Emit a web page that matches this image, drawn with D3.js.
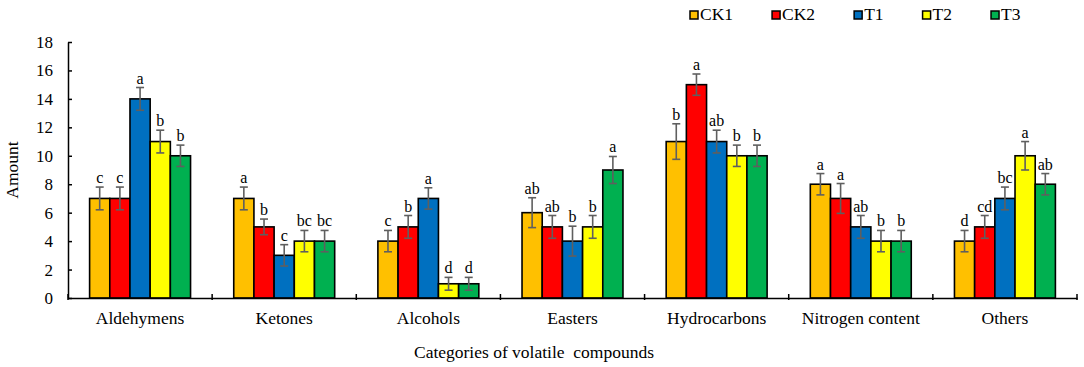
<!DOCTYPE html>
<html>
<head>
<meta charset="utf-8">
<script src="https://cdn.jsdelivr.net/npm/d3@7"></script>
<style>
  body { margin: 0; background: #fff; }
  svg text { font-family: "Liberation Serif", "Times New Roman", serif; fill: #000; }
</style>
</head>
<body>
<svg id="chart" width="1084" height="367"></svg>
<script>
const categories = ['Aldehymens', 'Ketones', 'Alcohols', 'Easters', 'Hydrocarbons', 'Nitrogen content', 'Others'];
const series = ['CK1', 'CK2', 'T1', 'T2', 'T3'];
const colors = ['#FFC000', '#FF0000', '#0070C0', '#FFFF00', '#00B050'];
const yTicks = [0, 2, 4, 6, 8, 10, 12, 14, 16, 18];

// one array per series, in category order
const CK1 = [7, 7, 4, 6, 11, 8, 4];
const CK2 = [7, 5, 5, 5, 15, 7, 5];
const T1 = [14, 3, 7, 4, 11, 5, 7];
const T2 = [11, 4, 1, 5, 10, 4, 10];
const T3 = [10, 4, 1, 9, 10, 4, 8];

const errCK1 = [0.8, 0.8, 0.75, 1.05, 1.25, 0.75, 0.75];
const errCK2 = [0.8, 0.55, 0.8, 0.8, 0.75, 1.05, 0.8];
const errT1 = [0.8, 0.75, 0.75, 1.05, 0.8, 0.8, 0.8];
const errT2 = [0.8, 0.75, 0.45, 0.8, 0.75, 0.75, 1.0];
const errT3 = [0.75, 0.75, 0.45, 0.95, 0.75, 0.75, 0.75];

const letCK1 = ['c', 'a', 'c', 'ab', 'b', 'a', 'd'];
const letCK2 = ['c', 'b', 'b', 'ab', 'a', 'a', 'cd'];
const letT1 = ['a', 'c', 'a', 'b', 'ab', 'ab', 'bc'];
const letT2 = ['b', 'bc', 'd', 'b', 'b', 'b', 'a'];
const letT3 = ['b', 'bc', 'd', 'a', 'b', 'b', 'ab'];

const values = [CK1, CK2, T1, T2, T3];
const errors = [errCK1, errCK2, errT1, errT2, errT3];
const letters = [letCK1, letCK2, letT1, letT2, letT3];

const svg = d3.select('svg#chart');
const plot = { left: 68, right: 1077, top: 42, bottom: 298 };
const serif = '"Liberation Serif", "Times New Roman", serif';

const x0 = d3.scaleBand().domain(categories).range([plot.left, plot.right]).padding(0);
const x1 = d3.scaleBand().domain(series).range([0, x0.bandwidth()]).paddingInner(0).paddingOuter(1.07);
const y = d3.scaleLinear().domain([0, 18]).range([plot.bottom, plot.top]);

const rows = [];
categories.forEach((c, ci) => {
  series.forEach((s, si) => {
    rows.push({ c, s, si, v: values[si][ci], e: errors[si][ci], l: letters[si][ci] });
  });
});

const g = svg.append('g');

g.selectAll('rect.bar')
    .data(rows)
  .enter().append('rect')
    .attr('class', 'bar')
    .attr('x', d => x0(d.c) + x1(d.s))
    .attr('y', d => y(d.v))
    .attr('width', x1.bandwidth())
    .attr('height', d => y(0) - y(d.v))
    .attr('fill', d => colors[d.si])
    .attr('stroke', '#000')
    .attr('stroke-width', 1.6);

// error bars
const eb = g.selectAll('g.err')
    .data(rows)
  .enter().append('g')
    .attr('class', 'err')
    .attr('transform', d => `translate(${x0(d.c) + x1(d.s) + x1.bandwidth() / 2},0)`);
eb.append('line')
    .attr('y1', d => y(d.v + d.e)).attr('y2', d => y(Math.max(0, d.v - d.e)))
    .attr('stroke', '#5f5f5f').attr('stroke-width', 1.6);
eb.append('line')
    .attr('x1', -4).attr('x2', 4)
    .attr('y1', d => y(d.v + d.e)).attr('y2', d => y(d.v + d.e))
    .attr('stroke', '#5f5f5f').attr('stroke-width', 1.6);
eb.append('line')
    .attr('x1', -4).attr('x2', 4)
    .attr('y1', d => y(Math.max(0, d.v - d.e))).attr('y2', d => y(Math.max(0, d.v - d.e)))
    .attr('stroke', '#5f5f5f').attr('stroke-width', 1.6);
eb.append('text')
    .attr('text-anchor', 'middle')
    .attr('y', d => y(d.v + d.e) - 4)
    .style('font-size', '16px')
    .text(d => d.l);

// axes
const yAxis = svg.append('g')
    .attr('transform', `translate(${plot.left},0)`)
    .call(d3.axisLeft(y).tickValues(yTicks).tickSizeInner(-4).tickSizeOuter(0).tickPadding(15));
yAxis.attr('font-family', serif);
yAxis.select('.domain').attr('stroke', '#000').attr('stroke-width', 1.5);
yAxis.selectAll('.tick line').attr('stroke', '#000').attr('stroke-width', 1.5);
yAxis.selectAll('.tick text').style('font-size', '17px');

const xAxis = svg.append('g')
    .attr('transform', `translate(0,${plot.bottom})`)
    .call(d3.axisBottom(x0).tickSize(0).tickPadding(14));
xAxis.attr('font-family', serif);
xAxis.select('.domain').attr('stroke', '#000').attr('stroke-width', 1.5);
xAxis.selectAll('.tick text').style('font-size', '17.5px');

// boundary ticks between categories
svg.append('g').selectAll('line')
    .data(categories.concat(['end']))
  .enter().append('line')
    .attr('x1', (d, i) => i < categories.length ? x0(d) : plot.right)
    .attr('x2', (d, i) => i < categories.length ? x0(d) : plot.right)
    .attr('y1', plot.bottom - 4).attr('y2', plot.bottom + 2)
    .attr('stroke', '#000').attr('stroke-width', 1.5);

svg.append('text')
    .attr('transform', `translate(18,${(plot.top + plot.bottom) / 2}) rotate(-90)`)
    .attr('text-anchor', 'middle')
    .style('font-size', '17.5px')
    .text('Amount');

svg.append('text')
    .attr('x', 534).attr('y', 358)
    .attr('text-anchor', 'middle')
    .style('font-size', '17.5px')
    .style('white-space', 'pre')
    .text('Categories of volatile  compounds');

// legend
const legend = svg.append('g').attr('transform', 'translate(690,15)');
let lx = 0;
series.forEach((s, i) => {
  const item = legend.append('g').attr('transform', `translate(${lx},0)`);
  item.append('rect')
      .attr('x', 0).attr('y', -4).attr('width', 8).attr('height', 8)
      .attr('fill', colors[i]).attr('stroke', '#000').attr('stroke-width', 1.5);
  const t = item.append('text')
      .attr('x', 10).attr('y', 5)
      .style('font-size', '17.5px')
      .text(s);
  lx += 10 + t.node().getComputedTextLength() + 39;
});
</script>
</body>
</html>
